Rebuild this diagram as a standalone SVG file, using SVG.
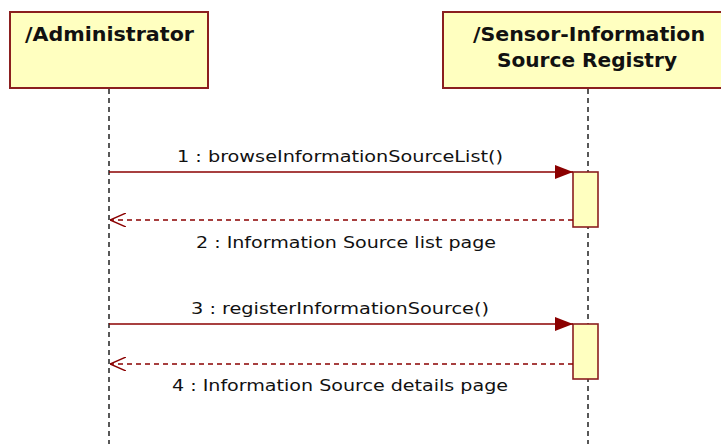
<svg xmlns="http://www.w3.org/2000/svg" width="721" height="444" viewBox="0 0 721 444">
  <style>
    .box { fill: #ffffc0; stroke: #8b1f1f; stroke-width: 2; }
    .life { stroke: #222; stroke-width: 1.5; stroke-dasharray: 5 4; fill: none; }
    .title { font-family: "DejaVu Sans", Verdana, sans-serif; font-stretch: condensed; font-weight: bold; font-size: 19px; fill: #111; text-anchor: middle; }
    .lbl { font-family: "DejaVu Sans", Verdana, sans-serif; font-stretch: condensed; font-size: 16px; fill: #111; text-anchor: middle; }
    .call { stroke: #8b0000; stroke-width: 1.6; fill: none; }
    .ret { stroke: #8b0000; stroke-width: 1.4; stroke-dasharray: 5 4; fill: none; }
    .act { fill: #ffffc0; stroke: #8b1f1f; stroke-width: 1.6; }
  </style>
  <defs>
    <marker id="solid" viewBox="0 0 18 14" refX="18" refY="7" markerWidth="18" markerHeight="14" markerUnits="userSpaceOnUse" orient="auto">
      <path d="M0,0 L18,7 L0,14 Z" fill="#8b0000"/>
    </marker>
    <marker id="open" viewBox="0 0 16 14" refX="16" refY="7" markerWidth="16" markerHeight="14" markerUnits="userSpaceOnUse" orient="auto">
      <path d="M0,0 L16,7 L0,14" fill="none" stroke="#8b0000" stroke-width="1.4"/>
    </marker>
  </defs>
  <rect width="721" height="444" fill="#fff"/>

  <g id="administrator">
    <line class="life" x1="109" y1="89" x2="109" y2="444"/>
    <rect class="box" x="10" y="12" width="198" height="76"/>
    <text class="title" x="109.5" y="41" textLength="169" lengthAdjust="spacingAndGlyphs">/Administrator</text>
  </g>

  <g id="registry">
    <line class="life" x1="588" y1="89" x2="588" y2="444"/>
    <rect class="box" x="443" y="12" width="292" height="76"/>
    <text class="title" x="589" y="41" textLength="232" lengthAdjust="spacingAndGlyphs">/Sensor-Information</text>
    <text class="title" x="587" y="67" textLength="180" lengthAdjust="spacingAndGlyphs">Source Registry</text>
    <rect class="act" x="573" y="172" width="25" height="55"/>
    <rect class="act" x="573" y="324" width="25" height="55"/>
  </g>

  <g id="connectors">
    <line class="call" x1="109" y1="172" x2="573" y2="172" marker-end="url(#solid)"/>
    <text class="lbl" x="340" y="162" textLength="326" lengthAdjust="spacingAndGlyphs">1 : browseInformationSourceList()</text>
    <line class="ret" x1="573" y1="220" x2="110" y2="220" marker-end="url(#open)"/>
    <text class="lbl" x="346" y="248" textLength="300" lengthAdjust="spacingAndGlyphs">2 : Information Source list page</text>
    <line class="call" x1="109" y1="324" x2="573" y2="324" marker-end="url(#solid)"/>
    <text class="lbl" x="340" y="314" textLength="298" lengthAdjust="spacingAndGlyphs">3 : registerInformationSource()</text>
    <line class="ret" x1="573" y1="364" x2="110" y2="364" marker-end="url(#open)"/>
    <text class="lbl" x="340" y="391" textLength="336" lengthAdjust="spacingAndGlyphs">4 : Information Source details page</text>
  </g>
</svg>
